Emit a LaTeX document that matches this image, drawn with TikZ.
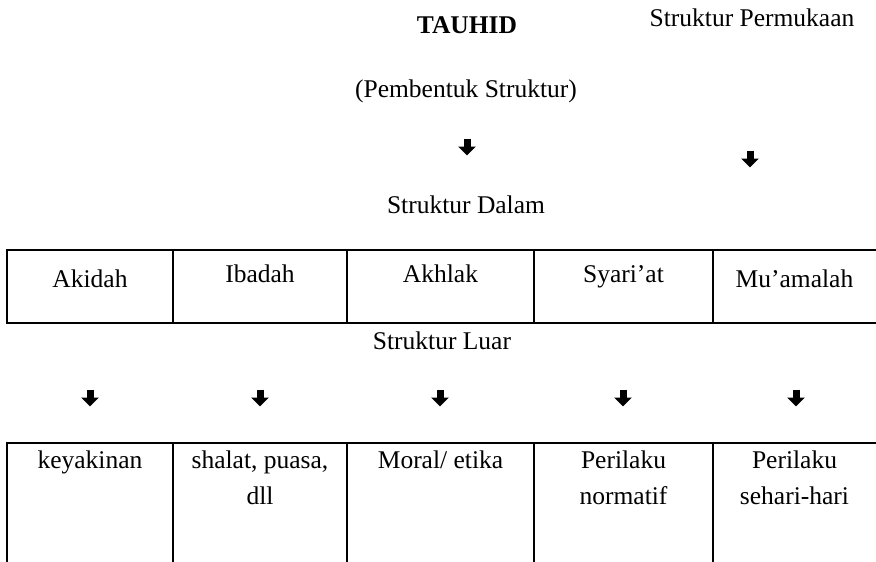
\documentclass[tikz,border=0pt]{standalone}
\usepackage{fontspec}
\setmainfont{Liberation Serif}
\usetikzlibrary{arrows.meta}
\tikzset{
  lbl/.style={inner sep=0pt, anchor=base, font=\fontsize{25.5}{36}\selectfont},
  cell/.style={lbl, align=center},
  grid/.style={line width=2pt, line cap=rect},
  dnarrow/.style={line width=7pt, -{Triangle[width=17pt,length=9pt]}}
}
\begin{document}
\begin{tikzpicture}[x=1pt,y=-1pt]
\useasboundingbox (0,0) rectangle (876,562);
% top texts
\node[lbl, font=\fontsize{25.5}{36}\selectfont\bfseries] (tauhid) at (467,34) {TAUHID};
\node[lbl] (permukaan) at (752,26) {Struktur Permukaan};
\node[lbl] (pembentuk) at (466,97) {(Pembentuk Struktur)};
\node[lbl] (dalam) at (466,213) {Struktur Dalam};
\node[lbl] (luar) at (442,349) {Struktur Luar};
% top arrows
\coordinate (ta1) at (467,138.5);
\coordinate (tb1) at (467,155.5);
\coordinate (ta2) at (750,150.5);
\coordinate (tb2) at (750,167.5);
\draw[dnarrow] (ta1) -- (tb1);
\draw[dnarrow] (ta2) -- (tb2);
% table 1
\draw[grid] (876,250) -- (7,250) -- (7,323) -- (876,323);
\foreach \x in {173,347,534,713} \draw[grid] (\x,250) -- (\x,323);
\node[lbl] (akidah) at (90,287) {Akidah};
\node[lbl] (ibadah) at (260,282) {Ibadah};
\node[lbl] (akhlak) at (440.5,282) {Akhlak};
\node[lbl] (syariat) at (623.5,282) {Syari’at};
\node[lbl] (muamalah) at (794.5,287) {Mu’amalah};
% bottom arrows
\foreach \x [count=\i] in {90,260,440,623,796} {
  \coordinate (ba\i) at (\x,389.5);
  \coordinate (bb\i) at (\x,406.5);
  \draw[dnarrow] (ba\i) -- (bb\i);
}
% table 2
\draw[grid] (7,565) -- (7,443) -- (876,443);
\foreach \x in {173,347,534,713} \draw[grid] (\x,443) -- (\x,565);
\node[cell] (keyakinan) at (90,468) {keyakinan};
\node[cell] (shalat) at (260,504) {shalat, puasa,\\dll};
\node[cell] (moral) at (440.5,468) {Moral/ etika};
\node[cell] (normatif) at (623.5,504) {Perilaku\\normatif};
\node[cell] (sehari) at (794.5,504) {Perilaku\\sehari-hari};
\end{tikzpicture}
\end{document}
